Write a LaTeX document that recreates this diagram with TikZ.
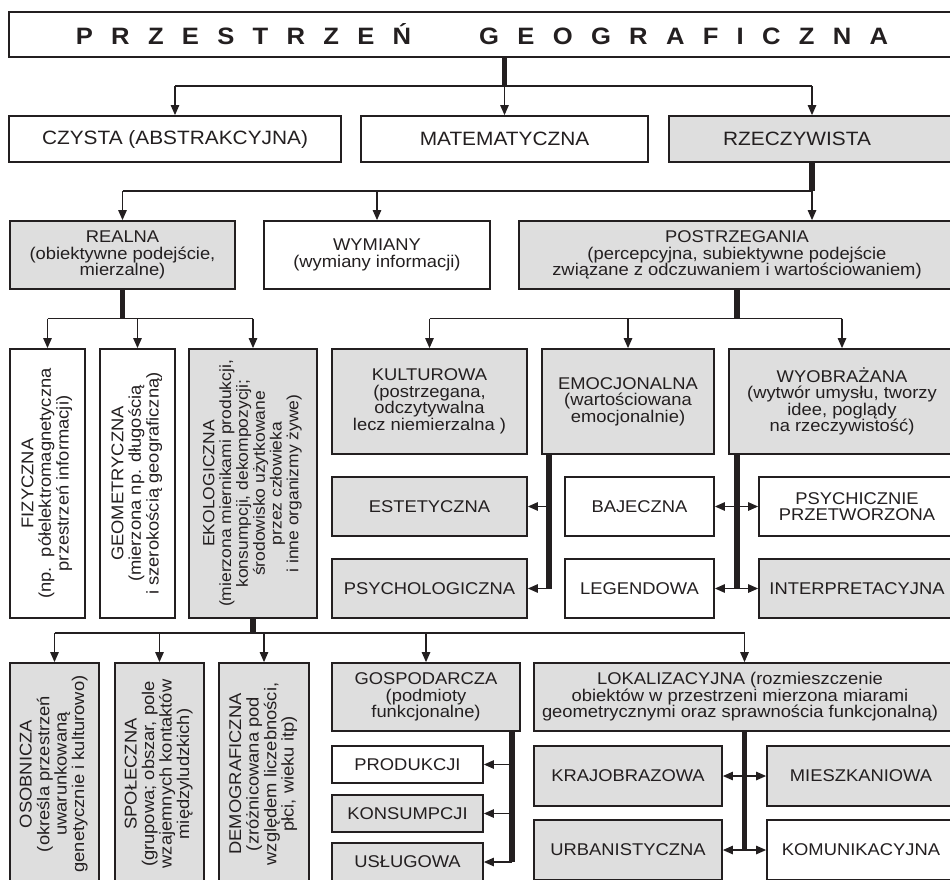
\documentclass[tikz,border=0pt]{standalone}
\usepackage{fontspec}
\usepackage{graphicx}
\setmainfont{Liberation Sans}[FakeStretch=1.08]
\usetikzlibrary{arrows.meta}
\definecolor{ink}{HTML}{231F20}
\definecolor{boxgray}{HTML}{DEDEDE}
\newcommand\lsp{\kern18.3pt\relax}
\newcommand\vlines[1]{\rotatebox{90}{\begin{tabular}{@{}c@{}}#1\end{tabular}}}
\tikzset{
  box/.style={draw=ink, line width=1.8pt, fill=white, inner sep=0pt, align=center, text=ink},
  grey/.style={box, fill=boxgray},
  big/.style={font=\fontsize{19.3}{21}\selectfont},
  small/.style={font=\fontsize{17}{16.5}\selectfont},
  rsmall/.style={font=\fontsize{17}{17}\selectfont},
  rtiny/.style={font=\fontsize{16.2}{16.8}\selectfont},
  headline/.style={font=\fontsize{23.7}{26}\selectfont\bfseries},
  stem/.style={draw=ink, line width=5.5pt},
  bus/.style={draw=ink, line width=1.2pt},
  arr/.style={draw=ink, line width=1.2pt, -{Triangle[length=10pt,width=8.5pt]}},
  darr/.style={draw=ink, line width=1.2pt, {Triangle[length=10pt,width=8.5pt]}-{Triangle[length=10pt,width=8.5pt]}},
}
\begin{document}
\begin{tikzpicture}[x=1pt,y=-1pt]
\fill[white] (0,0) rectangle (950,879);
\useasboundingbox (0,0) rectangle (950,879);
\clip (0,0) rectangle (950,879);

% title
\node[box, headline, minimum width=946, minimum height=45] (title) at (482,34.5)
  {P\lsp R\lsp Z\lsp E\lsp S\lsp T\lsp R\lsp Z\lsp E\lsp Ń\kern68pt G\lsp E\lsp O\lsp G\lsp R\lsp A\lsp F\lsp I\lsp C\lsp Z\lsp N\lsp A};

% second level
\node[box, big, minimum width=332, minimum height=46] (cz) at (175,139) {CZYSTA (ABSTRAKCYJNA)};
\node[box, big, minimum width=287, minimum height=46] (mat) at (504.5,139) {MATEMATYCZNA};
\node[grey, minimum width=286, minimum height=46] (rz) at (812,139) {};
\node[big, text=ink, inner sep=0pt] (rz-t) at (797,139) {RZECZYWISTA};

% third level
\node[grey, small, minimum width=225, minimum height=68] (realna) at (122.5,255)
  {REALNA\\(obiektywne podejście,\\mierzalne)};
\node[box, small, minimum width=226, minimum height=68] (wym) at (377,255)
  {WYMIANY\\(wymiany informacji)};
\node[grey, small, minimum width=436, minimum height=68] (post) at (737,255)
  {POSTRZEGANIA\\(percepcyjna, subiektywne podejście\\związane z odczuwaniem i wartościowaniem)};

% real space: vertical boxes
\node[box, rsmall, minimum width=75, minimum height=269] (fiz) at (47.5,483.5)
  {\vlines{FIZYCZNA\\(np.\ \ półelektromagnetyczna\\przestrzeń informacji)}};
\node[box, rsmall, minimum width=75, minimum height=269] (geo) at (137.5,483.5)
  {\vlines{GEOMETRYCZNA\\(mierzona np. długością\\i szerokością geograficzną)}};
\node[grey, rtiny, minimum width=128, minimum height=269] (eko) at (253,483.5)
  {\vlines{EKOLOGICZNA\\(mierzona miernikami produkcji,\\konsumpcji, dekompozycji;\\środowisko użytkowane\\przez człowieka\\i inne organizmy żywe)}};

% perception
\node[grey, small, minimum width=195, minimum height=105] (kult) at (429.5,401.5)
  {KULTUROWA\\(postrzegana,\\odczytywalna\\lecz niemierzalna )};
\node[grey, small, minimum width=172, minimum height=105] (emo) at (628,401.5)
  {EMOCJONALNA\\(wartościowana\\emocjonalnie)};
\node[grey, small, minimum width=226, minimum height=105] (wyo) at (842,401.5)
  {WYOBRAŻANA\\(wytwór umysłu, tworzy\\idee, poglądy\\na rzeczywistość)};

\node[grey, small, minimum width=195, minimum height=59] (est) at (429.5,506.5) {ESTETYCZNA};
\node[grey, small, minimum width=195, minimum height=59] (psl) at (429.5,588.5) {PSYCHOLOGICZNA};
\node[box, small, minimum width=149, minimum height=59] (baj) at (639.5,506.5) {BAJECZNA};
\node[box, small, minimum width=149, minimum height=59] (leg) at (639.5,588.5) {LEGENDOWA};
\node[box, small, minimum width=196, minimum height=59] (psy) at (857,506.5) {PSYCHICZNIE\\PRZETWORZONA};
\node[grey, small, minimum width=196, minimum height=59] (int) at (857,588.5) {INTERPRETACYJNA};

% ecological space
\node[grey, rsmall, minimum width=89, minimum height=222] (osob) at (54.5,774)
  {\vlines{OSOBNICZA\\(określa przestrzeń\\uwarunkowaną\\genetycznie i kulturowo)}};
\node[grey, rsmall, minimum width=89, minimum height=222] (spol) at (159.5,774)
  {\vlines{SPOŁECZNA\\(grupowa; obszar, pole\\wzajemnych kontaktów\\międzyludzkich)}};
\node[grey, rsmall, minimum width=90, minimum height=222] (demo) at (264,774)
  {\vlines{DEMOGRAFICZNA\\(zróżnicowana pod\\względem liczebności,\\płci, wieku itp)}};

\node[grey, small, minimum width=188, minimum height=68] (gosp) at (426,697)
  {GOSPODARCZA\\(podmioty\\funkcjonalne)};
\node[grey, minimum width=421, minimum height=68] (lok) at (744.5,697) {};
\node[small, text=ink, align=center, inner sep=0pt] (lok-t) at (740,697)
  {LOKALIZACYJNA (rozmieszczenie\\obiektów w przestrzeni mierzona miarami\\geometrycznymi oraz sprawnościa funkcjonalną)};

\node[box, small, minimum width=151, minimum height=37] (prod) at (407.5,764.5) {PRODUKCJI};
\node[grey, small, minimum width=151, minimum height=37] (kons) at (407.5,813.5) {KONSUMPCJI};
\node[grey, small, minimum width=151, minimum height=38] (usl) at (407.5,862) {USŁUGOWA};

\node[grey, small, minimum width=188, minimum height=60] (krajo) at (628,776) {KRAJOBRAZOWA};
\node[grey, small, minimum width=188, minimum height=60] (miesz) at (861,776) {MIESZKANIOWA};
\node[grey, small, minimum width=188, minimum height=60] (urb) at (628,850) {URBANISTYCZNA};
\node[box, small, minimum width=188, minimum height=60] (kom) at (861,850) {KOMUNIKACYJNA};

% bus levels and stem positions
\coordinate (bus1) at (0,86);
\coordinate (bus2) at (0,191);
\coordinate (bus3) at (0,318.5);
\coordinate (bus4) at (0,633);
\coordinate (emoS) at (549,0);
\coordinate (wyoS) at (737,0);
\coordinate (gospS) at (512,0);

% title -> second level
\draw[stem] (title.south -| mat) -- (bus1 -| mat);
\draw[bus] (bus1 -| cz) -- (bus1 -| rz);
\draw[arr] (bus1 -| cz) -- (cz.north);
\draw[arr] (bus1 -| mat) -- (mat.north);
\draw[arr] (bus1 -| rz) -- (rz.north);

% real space -> third level
\draw[stem] (rz.south) -- (bus2 -| rz);
\draw[bus] (bus2 -| realna) -- (bus2 -| rz);
\draw[arr] (bus2 -| realna) -- (realna.north);
\draw[arr] (bus2 -| wym) -- (wym.north);
\draw[arr] (bus2 -| rz) -- (post.north -| rz);

% real -> physical, geometric, ecological
\draw[stem] (realna.south) -- (bus3 -| realna);
\draw[bus] (bus3 -| fiz) -- (bus3 -| eko);
\draw[arr] (bus3 -| fiz) -- (fiz.north);
\draw[arr] (bus3 -| geo) -- (geo.north);
\draw[arr] (bus3 -| eko) -- (eko.north);

% perception -> cultural, emotional, imagined
\draw[stem] (post.south) -- (bus3 -| post);
\draw[bus] (bus3 -| kult) -- (bus3 -| wyo);
\draw[arr] (bus3 -| kult) -- (kult.north);
\draw[arr] (bus3 -| emo) -- (emo.north);
\draw[arr] (bus3 -| wyo) -- (wyo.north);

% emotional branch
\draw[stem] (emo.south -| emoS) -- (emoS |- psl);
\draw[arr] (emoS |- est) -- (est.east);
\draw[arr] (emoS |- psl) -- (psl.east);

% imagined branch
\draw[stem] (wyo.south -| wyoS) -- (wyoS |- leg);
\draw[darr] (baj.east) -- (psy.west);
\draw[darr] (leg.east) -- (int.west);

% ecological -> lower level
\draw[stem] (eko.south) -- (bus4 -| eko);
\draw[bus] (bus4 -| osob) -- (bus4 -| lok);
\draw[arr] (bus4 -| osob) -- (osob.north);
\draw[arr] (bus4 -| spol) -- (spol.north);
\draw[arr] (bus4 -| demo) -- (demo.north);
\draw[arr] (bus4 -| gosp) -- (gosp.north);
\draw[arr] (bus4 -| lok) -- (lok.north);

% economic branch
\draw[stem] (gosp.south -| gospS) -- (gospS |- usl);
\draw[arr] (gospS |- prod) -- (prod.east);
\draw[arr] (gospS |- kons) -- (kons.east);
\draw[arr] (gospS |- usl) -- (usl.east);

% locational branch
\draw[stem] (lok.south) -- (lok.south |- urb);
\draw[darr] (krajo.east) -- (miesz.west);
\draw[darr] (urb.east) -- (kom.west);
\end{tikzpicture}
\end{document}
